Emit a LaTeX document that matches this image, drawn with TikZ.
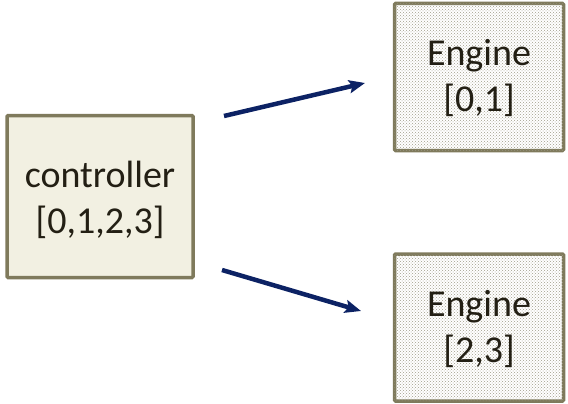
\documentclass[tikz,border=0pt]{standalone}
\usepackage{fontspec}
\setmainfont{Carlito}
\usetikzlibrary{patterns,arrows.meta}
\definecolor{boxline}{HTML}{7F7A5C}
\definecolor{ctrlfill}{HTML}{F2F0E2}
\definecolor{dotcol}{HTML}{A09D8A}
\definecolor{arrowcol}{HTML}{0C2264}
\definecolor{txt}{HTML}{231F14}
\tikzset{
  boxfont/.style={font=\fontsize{38}{46}\selectfont, text=txt, align=center},
  ctrlbox/.style={draw=boxline, line width=3.5pt, fill=ctrlfill, minimum width=186pt, minimum height=162pt, rounded corners=1pt},
  engbox/.style={draw=boxline, line width=3.5pt, minimum width=169pt, minimum height=147pt, postaction={pattern=crosshatch dots, pattern color=dotcol}, fill=white, rounded corners=1pt},
  conn/.style={draw=arrowcol, line width=4.5pt, -{Stealth[length=16pt,width=13pt,inset=3pt]}}
}
\begin{document}
\begin{tikzpicture}[x=1pt,y=-1pt]
\useasboundingbox (0,0) rectangle (568,404);
\node[engbox] (eng1) at (479,77) {};
\node[engbox] (eng2) at (479,327.5) {};
\node[ctrlbox] (ctrl) at (100,196.5) {};
\node[boxfont] (t0) at (100,200) {controller\\{[0,1,2,3]}};
\node[boxfont] (t1) at (479,78) {Engine\\{[0,1]}};
\node[boxfont] (t2) at (479,329) {Engine\\{[2,3]}};
\coordinate (s1) at (224,116);
\coordinate (e1) at (365,83);
\coordinate (s2) at (222,270);
\coordinate (e2) at (361,311);
\draw[conn] (s1) -- (e1);
\draw[conn] (s2) -- (e2);
\end{tikzpicture}
\end{document}
